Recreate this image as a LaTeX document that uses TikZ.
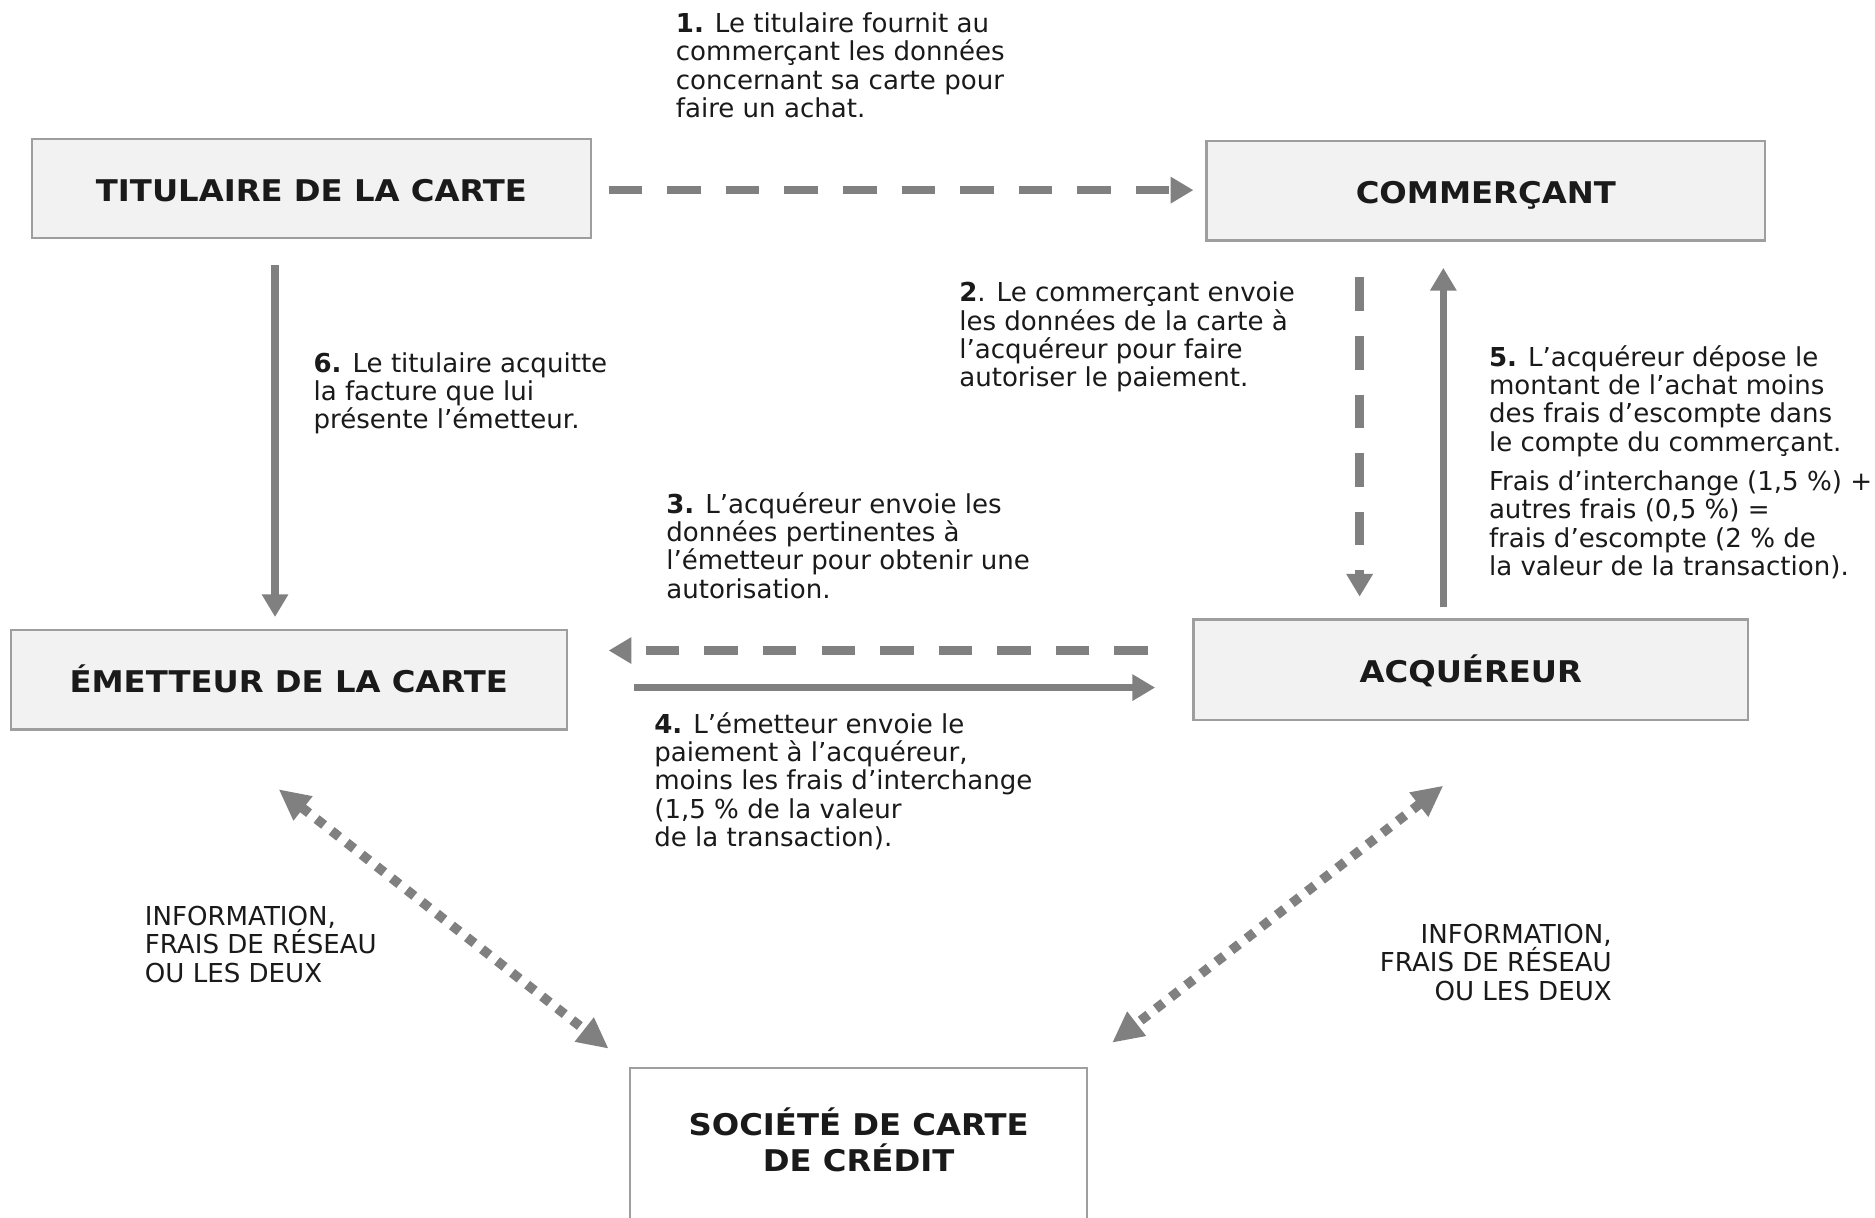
\documentclass[tikz,border=0pt]{standalone}
\usepackage{fontspec}
\setmainfont{DejaVu Sans}
\newfontfamily\boxfont[FakeStretch=1.08]{DejaVu Sans}
\usetikzlibrary{arrows.meta,calc}
\definecolor{arr}{HTML}{808080}
\definecolor{boxfill}{HTML}{F2F2F2}
\definecolor{boxline}{HTML}{9E9E9E}
\definecolor{txt}{HTML}{1A1A1A}
\begin{document}
\begin{tikzpicture}[x=1pt,y=-1pt,
  box/.style={draw=boxline, line width=2pt, fill=boxfill, inner sep=0pt, outer sep=0pt,
    text height=22pt, text depth=0pt,
    font=\boxfont\bfseries\fontsize{25}{30}\selectfont, text=txt},
  boxtxt/.style={inner sep=0pt, align=center, font=\boxfont\bfseries\fontsize{25}{30}\selectfont, text=txt},
  lbl/.style={anchor=north west, inner sep=0pt, align=left,
    font=\fontsize{21.8}{23.7}\selectfont, text=txt, execute at begin node=\strut},
  lblr/.style={lbl, anchor=north east, align=right},
  solidarr/.style={draw=arr, line width=6pt, -{Triangle[length=19pt,width=21pt]}},
  dasharr/.style={draw=arr, line width=7pt, dash pattern=on 28pt off 21pt, -{Triangle[length=19pt,width=21pt]}},
  dotarr/.style={draw=arr, line width=8pt, dash pattern=on 8pt off 8pt,
    {Triangle[length=26pt,width=24pt]}-{Triangle[length=26pt,width=24pt]}},
]
\useasboundingbox (0,0) rectangle (1568,1018);
\fill[white] (0,0) rectangle (1568,1018);

% boxes
\node[box, minimum width=467pt, minimum height=83pt] (tit) at (260.5,157.5) {TITULAIRE DE LA CARTE};
\node[box, minimum width=467pt, minimum height=83pt] (com) at (1242.5,159.5) {COMMERÇANT};
\node[box, minimum width=465pt, minimum height=83pt] (emet) at (241.5,568.5) {ÉMETTEUR DE LA CARTE};
\node[box, minimum width=464pt, minimum height=84pt] (acq) at (1230,560) {ACQUÉREUR};
\node[box, fill=white, minimum width=382pt, minimum height=150pt] (soc) at (718,968) {};
\node[boxtxt] (soctxt) at (718,953) {SOCIÉTÉ DE CARTE\\DE CRÉDIT};

% helper coordinates
\coordinate (y1) at (0,159);
\coordinate (x6) at (230,0);
\coordinate (x2) at (1137,0);
\coordinate (x5) at (1207,0);
\coordinate (y3) at (0,544);
\coordinate (y4) at (0,575);
\coordinate (dl1) at (233,660);
\coordinate (dl2) at (509,877);
\coordinate (dr1) at (1207,657);
\coordinate (dr2) at (930,872);

% connectors
\draw[dasharr, shorten <=15pt, shorten >=11pt] (tit.east |- y1) -- (com.west |- y1);
\draw[solidarr, shorten <=23pt, shorten >=11pt] (tit.south -| x6) -- (emet.north -| x6);
\draw[dasharr, shorten <=31pt, shorten >=19pt] (com.south -| x2) -- (acq.north -| x2);
\draw[solidarr, shorten <=10pt, shorten >=23pt] (acq.north -| x5) -- (com.south -| x5);
\draw[dasharr, shorten <=38pt, shorten >=35pt] (acq.west |- y3) -- (emet.east |- y3);
\draw[solidarr, shorten <=56pt, shorten >=32pt] (emet.east |- y4) -- (acq.west |- y4);
\draw[dotarr] (dl1) -- (dl2);
\draw[dotarr] (dr1) -- (dr2);

% labels
\node[lbl] (l1) at (565,10.5) {\textbf{1.} Le titulaire fournit au\\commerçant les données\\concernant sa carte pour\\faire un achat.};
\node[lbl] (l2) at (802,235.5) {\textbf{2}. Le commerçant envoie\\les données de la carte à\\l’acquéreur pour faire\\autoriser le paiement.};
\node[lbl] (l6) at (262,294.5) {\textbf{6.} Le titulaire acquitte\\la facture que lui\\présente l’émetteur.};
\node[lbl] (l5) at (1245,288.5) {\textbf{5.} L’acquéreur dépose le\\montant de l’achat moins\\des frais d’escompte dans\\le compte du commerçant.\\[9.3pt]Frais d’interchange (1,5~\%) +\\autres frais (0,5~\%) =\\frais d’escompte (2~\% de\\la valeur de la transaction).};
\node[lbl] (l3) at (557,411.5) {\textbf{3.} L’acquéreur envoie les\\données pertinentes à\\l’émetteur pour obtenir une\\autorisation.};
\node[lbl] (l4) at (547,595.5) {\textbf{4.} L’émetteur envoie le\\paiement à l’acquéreur,\\moins les frais d’interchange\\(1,5~\% de la valeur\\de la transaction).};
\node[lbl] (il) at (121,757.5) {INFORMATION,\\FRAIS DE RÉSEAU\\OU LES DEUX};
\node[lblr] (ir) at (1348,772.5) {INFORMATION,\\FRAIS DE RÉSEAU\\OU LES DEUX};
\end{tikzpicture}
\end{document}
